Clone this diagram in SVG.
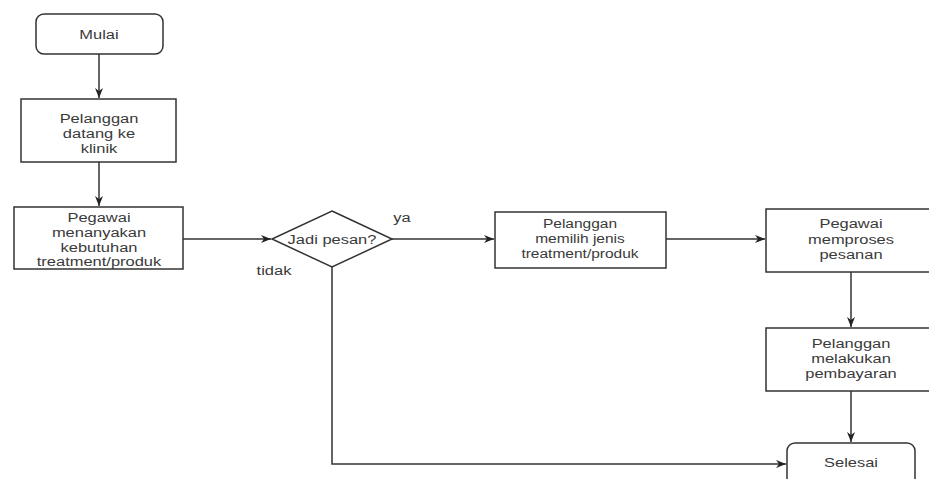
<svg xmlns="http://www.w3.org/2000/svg" width="929" height="479" viewBox="0 0 929 479">
  <style>
    .shape { fill: #ffffff; stroke: #333333; stroke-width: 1.5; }
    .edge { fill: none; stroke: #333333; stroke-width: 1.5; }
    .label { font-family: "Liberation Sans", Arial, sans-serif; font-size: 13.5px; fill: #3a3a3a; text-anchor: middle; }
  </style>
  <defs>
    <marker id="arrow" markerUnits="userSpaceOnUse" markerWidth="11" markerHeight="9" refX="10" refY="4" orient="auto">
      <path d="M0,0 L10,4 L0,8 L3,4 Z" fill="#222222"/>
    </marker>
  </defs>
  <rect width="929" height="479" fill="#ffffff"/>

  <g id="connectors">
    <path class="edge" d="M99,54 L99,98" marker-end="url(#arrow)"/>
    <path class="edge" d="M99,162 L99,206" marker-end="url(#arrow)"/>
    <path class="edge" d="M183,239 L271,239" marker-end="url(#arrow)"/>
    <path class="edge" d="M392,239 L494,239" marker-end="url(#arrow)"/>
    <path class="edge" d="M666,239 L765,239" marker-end="url(#arrow)"/>
    <path class="edge" d="M851,272 L851,327" marker-end="url(#arrow)"/>
    <path class="edge" d="M851,391 L851,442" marker-end="url(#arrow)"/>
    <path class="edge" d="M332,267 L332,464 L786,464" marker-end="url(#arrow)"/>
    <text class="label" transform="translate(402 0) scale(1.22 1)" x="0" y="222">ya</text>
    <text class="label" transform="translate(274 0) scale(1.22 1)" x="0" y="275">tidak</text>
  </g>

  <g id="mulai">
    <rect class="shape" x="36" y="14" width="127" height="40" rx="8"/>
    <text class="label" transform="translate(99 0) scale(1.22 1)" x="0" y="39">Mulai</text>
  </g>

  <g id="pelanggan-datang">
    <rect class="shape" x="21" y="99" width="155" height="63"/>
    <text class="label" transform="translate(99 0) scale(1.22 1)"><tspan x="0" y="123">Pelanggan</tspan><tspan x="0" y="138">datang ke</tspan><tspan x="0" y="153">klinik</tspan></text>
  </g>

  <g id="pegawai-menanyakan">
    <rect class="shape" x="14" y="207" width="169" height="62"/>
    <text class="label" transform="translate(99 0) scale(1.22 1)"><tspan x="0" y="222">Pegawai</tspan><tspan x="0" y="237">menanyakan</tspan><tspan x="0" y="252">kebutuhan</tspan><tspan x="0" y="266">treatment/produk</tspan></text>
  </g>

  <g id="jadi-pesan">
    <polygon class="shape" points="332,211 392,239 332,267 272,239"/>
    <text class="label" transform="translate(332 0) scale(1.22 1)" x="0" y="244">Jadi pesan?</text>
  </g>

  <g id="pelanggan-memilih">
    <rect class="shape" x="495" y="212" width="171" height="56"/>
    <text class="label" transform="translate(580 0) scale(1.15 1)"><tspan x="0" y="228">Pelanggan</tspan><tspan x="0" y="243">memilih jenis</tspan><tspan x="0" y="258">treatment/produk</tspan></text>
  </g>

  <g id="pegawai-memproses">
    <rect class="shape" x="766" y="209" width="170" height="63"/>
    <text class="label" transform="translate(851 0) scale(1.22 1)"><tspan x="0" y="228">Pegawai</tspan><tspan x="0" y="244">memproses</tspan><tspan x="0" y="259">pesanan</tspan></text>
  </g>

  <g id="pelanggan-membayar">
    <rect class="shape" x="766" y="328" width="170" height="63"/>
    <text class="label" transform="translate(851 0) scale(1.22 1)"><tspan x="0" y="348">Pelanggan</tspan><tspan x="0" y="363">melakukan</tspan><tspan x="0" y="378">pembayaran</tspan></text>
  </g>

  <g id="selesai">
    <rect class="shape" x="787" y="443" width="128" height="50" rx="8"/>
    <text class="label" transform="translate(851 0) scale(1.22 1)" x="0" y="467">Selesai</text>
  </g>
</svg>
